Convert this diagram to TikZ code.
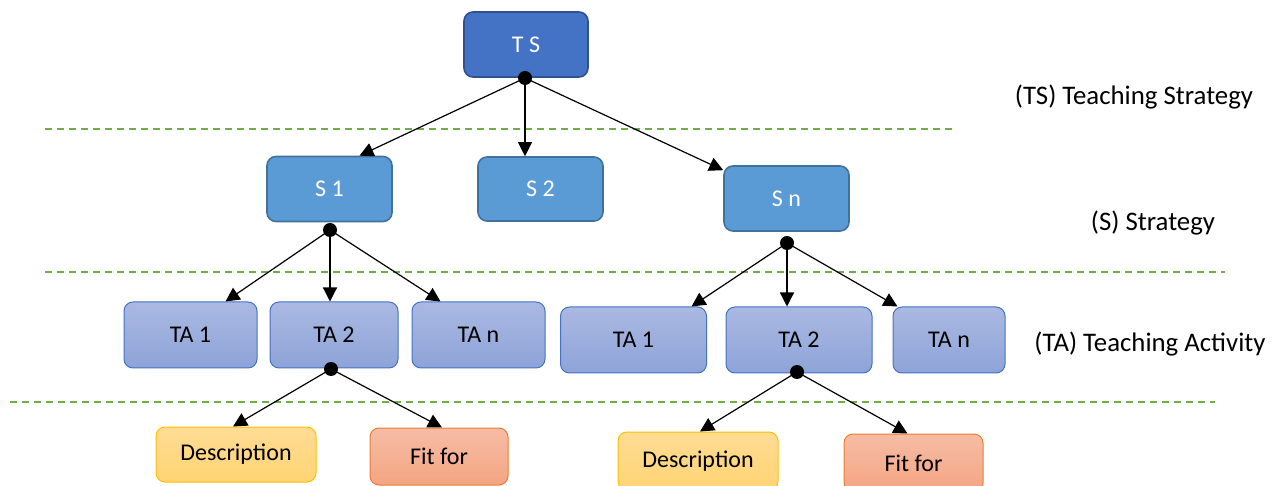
\documentclass[tikz,border=0pt]{standalone}
\usepackage{fontspec}
\setmainfont{Carlito}
\usetikzlibrary{arrows.meta}

\definecolor{tsfill}{HTML}{4472C4}
\definecolor{tsline}{HTML}{2F528F}
\definecolor{sfill}{HTML}{5B9BD5}
\definecolor{sline}{HTML}{41719C}
\definecolor{tatop}{HTML}{AAB9E2}
\definecolor{tabot}{HTML}{8EA3D8}
\definecolor{taline}{HTML}{4472C4}
\definecolor{desctop}{HTML}{FFDC95}
\definecolor{descbot}{HTML}{FFD473}
\definecolor{descline}{HTML}{FFC000}
\definecolor{fittop}{HTML}{F6BCA5}
\definecolor{fitbot}{HTML}{F4A582}
\definecolor{fitline}{HTML}{ED7D31}
\definecolor{layerline}{HTML}{70AD47}

\tikzset{
  box/.style={rounded corners=9pt, inner sep=0pt, line width=1pt,
    font=\fontsize{24}{28}\selectfont},
  tsbox/.style={box, fill=tsfill, draw=tsline, line width=1.6pt, text=white,
    minimum width=124pt, minimum height=65pt},
  sbox/.style={box, fill=sfill, draw=sline, line width=1.6pt, text=white,
    minimum width=125pt, minimum height=65pt},
  tabox/.style={box, top color=tatop, bottom color=tabot, draw=taline,
    minimum height=66pt},
  descbox/.style={box, top color=desctop, bottom color=descbot, draw=descline,
    minimum width=160pt},
  fitbox/.style={box, top color=fittop, bottom color=fitbot, draw=fitline,
    minimum width=138pt},
  link/.style={-{Triangle[length=14pt,width=14pt]}, line width=1.2pt},
  hub/.style={fill=black},
  layer/.style={draw=layerline, line width=1.8pt, dash pattern=on 7pt off 5pt},
  tier/.style={font=\fontsize{26.8}{30}\selectfont, inner sep=0pt}
}

\begin{document}
\begin{tikzpicture}[x=1pt,y=-1pt]
\clip (0,0) rectangle (1283,486);

% layer separators
\draw[layer] (45,129) -- (955,129);
\draw[layer] (45,272) -- (1225,272);
\draw[layer] (10,402) -- (1215,402);

% tier labels
\node[tier] (lts) at (1134,97) {(TS) Teaching Strategy};
\node[tier] (ls)  at (1153,223) {(S) Strategy};
\node[tier] (lta) at (1150,344) {(TA) Teaching Activity};

% root
\node[tsbox] (TS) at (526,44.5) {T S};

% strategies
\node[sbox] (S1) at (329.5,189) {S 1};
\node[sbox, minimum height=64pt] (S2) at (540.5,189) {S 2};
\node[sbox] (Sn) at (786.5,198.5) {S n};

% activities under S 1
\node[tabox, minimum width=133pt] (A1) at (190.5,335) {TA 1};
\node[tabox, minimum width=128pt] (A2) at (334,335) {TA 2};
\node[tabox, minimum width=133pt] (An) at (478.5,335) {TA n};

% activities under S n
\node[tabox, minimum width=146pt] (B1) at (633.5,340) {TA 1};
\node[tabox, minimum width=146pt] (B2) at (799,340) {TA 2};
\node[tabox, minimum width=112pt] (Bn) at (949,340) {TA n};

% details of TA 2
\node[descbox, minimum height=55pt] (D1) at (236,454.5) {Description};
\node[fitbox, minimum height=57pt] (F1) at (439,456.5) {Fit for};
\node[descbox, minimum height=58pt] (D2) at (698,461) {Description};
\node[fitbox, minimum width=139pt, minimum height=58pt] (F2) at (913.5,463) {Fit for};

% branching points
\coordinate (hTS) at (525,78);
\coordinate (hS1) at (330,230);
\coordinate (hSn) at (787,243);
\coordinate (hA2) at (331,369);
\coordinate (hB2) at (797,372);

% connectors
\draw[link] (hTS) -- ([xshift=30pt]S1.north);
\draw[link] (hTS) -- (hTS |- S2.north);
\draw[link] (hTS) -- ([yshift=-5pt]Sn.north west);

\draw[link] (hS1) -- ([xshift=35pt]A1.north);
\draw[link] (hS1) -- (hS1 |- A2.north);
\draw[link] (hS1) -- ([xshift=-38pt]An.north);

\draw[link] (hSn) -- ([xshift=58pt]B1.north);
\draw[link] (hSn) -- (hSn |- B2.north);
\draw[link] (hSn) -- ([xshift=5pt]Bn.north west);

\draw[link] (hA2) -- ([xshift=-3pt]D1.north);
\draw[link] (hA2) -- ([xshift=3pt]F1.north);
\draw[link] (hB2) -- ([xshift=2pt]D2.north);
\draw[link] (hB2) -- ([xshift=-6pt]F2.north);

% hub dots
\foreach \h in {hTS,hS1,hSn,hA2,hB2} \fill[hub] (\h) circle (7pt);
\end{tikzpicture}
\end{document}
